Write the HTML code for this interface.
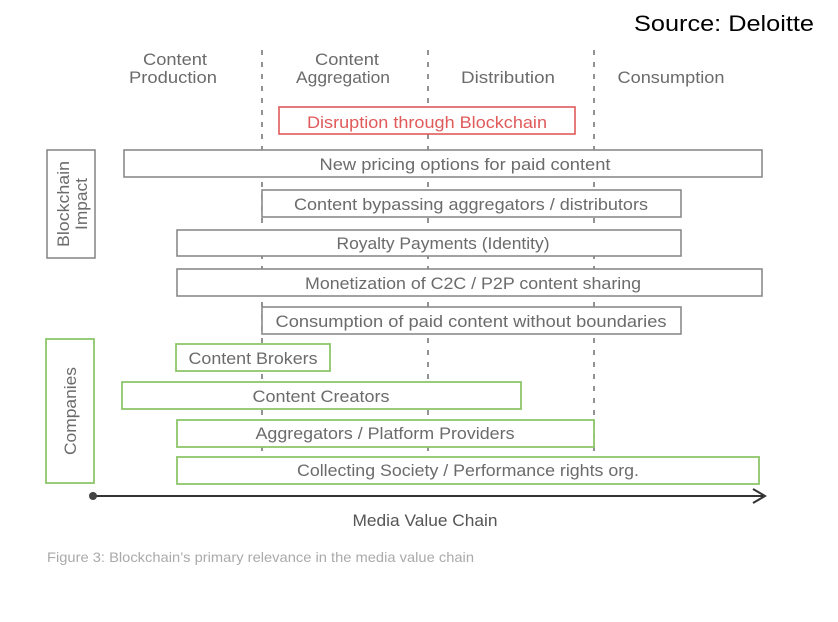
<!DOCTYPE html>
<html><head><meta charset="utf-8"><style>
html,body{margin:0;padding:0;background:#fff;}
svg{display:block;}
text{font-family:"Liberation Sans",sans-serif;fill:#6b6b6b;font-size:17px;}
</style></head><body>
<svg width="838" height="622" viewBox="0 0 838 622" xmlns="http://www.w3.org/2000/svg">
<text x="814" y="31" text-anchor="end" style="fill:#000;font-size:22px" textLength="180" lengthAdjust="spacingAndGlyphs">Source: Deloitte</text>
<g stroke="#777" stroke-width="1.6" stroke-dasharray="5,7" fill="none">
<line x1="262" y1="50" x2="262" y2="470"/>
<line x1="428" y1="50" x2="428" y2="470"/>
<line x1="594" y1="50" x2="594" y2="470"/>
</g>
<g text-anchor="middle">
<text x="175" y="65" textLength="64" lengthAdjust="spacingAndGlyphs">Content</text>
<text x="173" y="83" textLength="88" lengthAdjust="spacingAndGlyphs">Production</text>
<text x="347" y="65" textLength="64" lengthAdjust="spacingAndGlyphs">Content</text>
<text x="343" y="83" textLength="94" lengthAdjust="spacingAndGlyphs">Aggregation</text>
<text x="508" y="83" textLength="94" lengthAdjust="spacingAndGlyphs">Distribution</text>
<text x="671" y="83" textLength="107" lengthAdjust="spacingAndGlyphs">Consumption</text>
</g>
<rect x="279" y="107" width="296" height="27" fill="#fff" stroke="#e05a5a" stroke-width="1.6"/>
<text x="427" y="128" text-anchor="middle" style="fill:#e05a5a" textLength="240" lengthAdjust="spacingAndGlyphs">Disruption through Blockchain</text>
<g fill="#fff" stroke="#8a8a8a" stroke-width="1.6">
<rect x="124" y="150" width="638" height="27"/>
<rect x="262" y="190" width="419" height="27"/>
<rect x="177" y="230" width="504" height="26"/>
<rect x="177" y="269" width="585" height="27"/>
<rect x="262" y="307" width="419" height="27"/>
<rect x="47" y="150" width="48" height="108"/>
</g>
<g text-anchor="middle">
<text x="465" y="170" textLength="291" lengthAdjust="spacingAndGlyphs">New pricing options for paid content</text>
<text x="471" y="210" textLength="354" lengthAdjust="spacingAndGlyphs">Content bypassing aggregators / distributors</text>
<text x="443" y="249" textLength="213" lengthAdjust="spacingAndGlyphs">Royalty Payments (Identity)</text>
<text x="473" y="289" textLength="336" lengthAdjust="spacingAndGlyphs">Monetization of C2C / P2P content sharing</text>
<text x="471" y="327" textLength="391" lengthAdjust="spacingAndGlyphs">Consumption of paid content without boundaries</text>
</g>
<text transform="translate(69,204) rotate(-90)" text-anchor="middle" textLength="86" lengthAdjust="spacingAndGlyphs">Blockchain</text>
<text transform="translate(87,204) rotate(-90)" text-anchor="middle" textLength="52" lengthAdjust="spacingAndGlyphs">Impact</text>
<g fill="#fff" stroke="#8cc66a" stroke-width="1.8">
<rect x="176" y="344" width="154" height="27"/>
<rect x="122" y="382" width="399" height="27"/>
<rect x="177" y="420" width="417" height="27"/>
<rect x="177" y="457" width="582" height="27"/>
<rect x="46" y="339" width="48" height="144"/>
</g>
<g text-anchor="middle">
<text x="253" y="364" textLength="129" lengthAdjust="spacingAndGlyphs">Content Brokers</text>
<text x="321" y="402" textLength="137" lengthAdjust="spacingAndGlyphs">Content Creators</text>
<text x="385" y="439" textLength="259" lengthAdjust="spacingAndGlyphs">Aggregators / Platform Providers</text>
<text x="468" y="476" textLength="342" lengthAdjust="spacingAndGlyphs">Collecting Society / Performance rights org.</text>
</g>
<text transform="translate(76,411) rotate(-90)" text-anchor="middle" textLength="88" lengthAdjust="spacingAndGlyphs">Companies</text>
<line x1="93" y1="496" x2="764" y2="496" stroke="#333" stroke-width="2"/>
<polyline points="753,489 765,496 753,503" fill="none" stroke="#333" stroke-width="2"/>
<circle cx="93" cy="496" r="4" fill="#444"/>
<text x="425" y="526" text-anchor="middle" style="fill:#555" textLength="145" lengthAdjust="spacingAndGlyphs">Media Value Chain</text>
<text x="47" y="562" style="fill:#aaa;font-size:14px" textLength="427" lengthAdjust="spacingAndGlyphs">Figure 3: Blockchain’s primary relevance in the media value chain</text>
</svg>
</body></html>
